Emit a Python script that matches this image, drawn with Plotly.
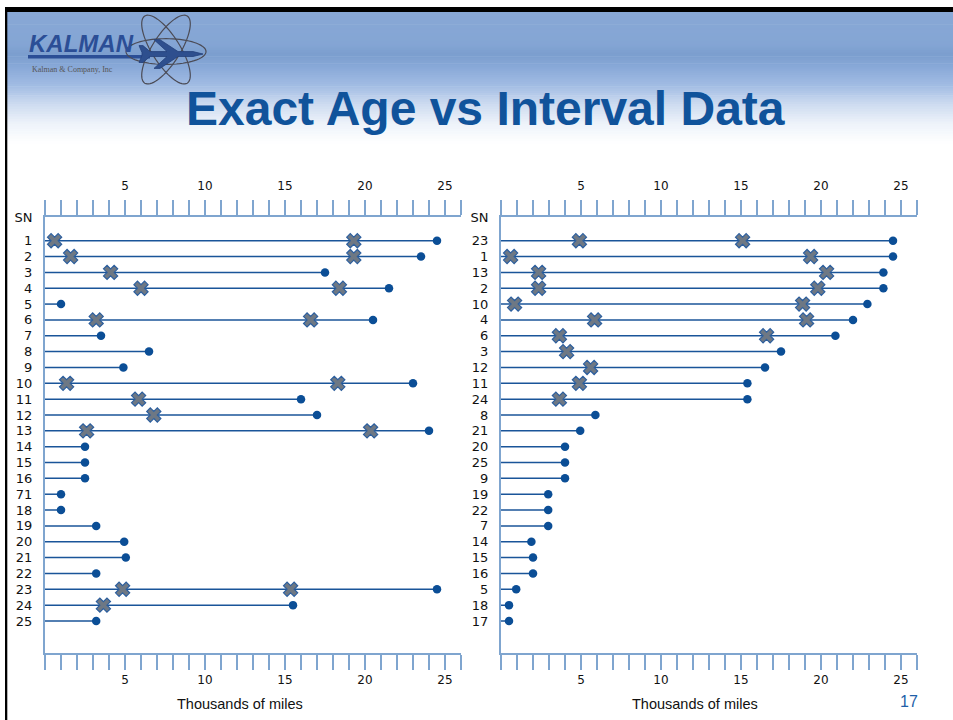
import math
import plotly.graph_objects as go

# ---------------- data ----------------
left_sn = ["1", "2", "3", "4", "5", "6", "7", "8", "9", "10", "11", "12", "13",
           "14", "15", "16", "71", "18", "19", "20", "21", "22", "23", "24", "25"]
left_end = [24.5, 23.5, 17.5, 21.5, 1.0, 20.5, 3.5, 6.5, 4.9, 23.0, 16.0, 17.0, 24.0,
            2.5, 2.5, 2.5, 1.0, 1.0, 3.2, 4.95, 5.05, 3.2, 24.5, 15.5, 3.2]
left_fail1 = [0.6, 1.6, 4.1, 6.0, None, 3.2, None, None, None, 1.35, 5.85, 6.8, 2.6,
              None, None, None, None, None, None, None, None, None, 4.85, 3.65, None]
left_fail2 = [19.3, 19.3, None, 18.4, None, 16.6, None, None, None, 18.3, None, None, 20.35,
              None, None, None, None, None, None, None, None, None, 15.35, None, None]

right_sn = ["23", "1", "13", "2", "10", "4", "6", "3", "12", "11", "24", "8", "21",
            "20", "25", "9", "19", "22", "7", "14", "15", "16", "5", "18", "17"]
right_end = [24.5, 24.5, 23.9, 23.9, 22.9, 22.0, 20.9, 17.5, 16.5, 15.4, 15.4, 5.9, 4.95,
             4.0, 4.0, 4.0, 2.95, 2.95, 2.95, 1.9, 2.0, 2.0, 0.95, 0.5, 0.5]
right_fail1 = [4.9, 0.6, 2.35, 2.35, 0.85, 5.85, 3.65, 4.1, 5.6, 4.9, 3.65, None, None,
               None, None, None, None, None, None, None, None, None, None, None, None]
right_fail2 = [15.1, 19.35, 20.35, 19.8, 18.85, 19.1, 16.6, None, None, None, None, None, None,
               None, None, None, None, None, None, None, None, None, None, None, None]

x_tick_vals = [5, 10, 15, 20, 25]
x_tick_text = ["5", "10", "15", "20", "25"]
axis_title = "Thousands of miles"
title_text = "Exact Age vs Interval Data"
page_number = "17"

# ---------------- styling ----------------
W, H = 953, 720
LINE_C = "#1A5599"
DOT_C = "#0B4E96"
X_FILL = "#6E7884"
X_EDGE = "#2D5F9E"
AXIS_C = "#7FA5CF"


def px(x):
    return x / W


def py(y):
    return 1 - y / H


fig = go.Figure()


def add_panel(sn, end, f1, f2, xa, ya, xtop):
    rows = list(range(len(sn)))
    lx, ly = [], []
    for r, e in zip(rows, end):
        lx += [0, e, None]
        ly += [r, r, None]
    fig.add_trace(go.Scatter(x=lx, y=ly, mode="lines", xaxis=xa, yaxis=ya,
                             line=dict(color=LINE_C, width=1.5),
                             hoverinfo="skip", showlegend=False))
    fig.add_trace(go.Scatter(x=end, y=rows, mode="markers", xaxis=xa, yaxis=ya,
                             marker=dict(symbol="circle", size=8.5, color=DOT_C),
                             showlegend=False))
    fx, fy = [], []
    for r, a, b in zip(rows, f1, f2):
        for v in (a, b):
            if v is not None:
                fx.append(v)
                fy.append(r)
    fig.add_trace(go.Scatter(x=fx, y=fy, mode="markers", xaxis=xa, yaxis=ya,
                             marker=dict(symbol="x", size=12.5, color=X_FILL,
                                         line=dict(color=X_EDGE, width=1.2)),
                             showlegend=False))
    # dummy trace to make the top axis render
    fig.add_trace(go.Scatter(x=[None], y=[None], xaxis=xtop, yaxis=ya,
                             showlegend=False, hoverinfo="skip"))


add_panel(left_sn, left_end, left_fail1, left_fail2, "x", "y", "x3")
add_panel(right_sn, right_end, right_fail1, right_fail2, "x2", "y2", "x4")

y_top_px, y_bot_px = 212, 652
ydom = [py(y_bot_px), py(y_top_px)]
yrange = [26, -1.5]

tickfont_axis = dict(family="DejaVu Sans", size=12, color="#111111")


def xaxis_cfg(dom, side, anchor, overlay=None, match=None):
    d = dict(domain=dom, range=[0, 26], side=side, anchor=anchor,
             showgrid=False, zeroline=False, showline=True, linecolor=AXIS_C,
             linewidth=2, tickmode="array", tickvals=x_tick_vals, ticktext=x_tick_text,
             ticks="outside", ticklen=15, tickwidth=1.6, tickcolor=AXIS_C,
             tickfont=tickfont_axis,
             ticklabelstandoff=(5 if side == "top" else 0),
             minor=dict(dtick=1, tick0=0, ticks="outside", ticklen=15,
                        tickwidth=1.6, tickcolor=AXIS_C, showgrid=False),
             fixedrange=True)
    if overlay:
        d["overlaying"] = overlay
    if match:
        d["matches"] = match
    return d


def yaxis_cfg(anchor, sn):
    return dict(domain=ydom, range=yrange, anchor=anchor, showgrid=False,
                zeroline=False, showline=True, linecolor=AXIS_C, linewidth=2,
                tickmode="array", tickvals=[-1.5] + list(range(len(sn))),
                ticktext=["SN"] + sn, ticks="", ticklabelstandoff=8,
                tickfont=dict(family="DejaVu Sans", size=13, color="#111111"),
                fixedrange=True)


ldom = [px(45), px(461)]
rdom = [px(501), px(917)]

# ---------------- decoration shapes ----------------
shapes = []
# header gradient bands
stops = [(5, (136, 168, 214)), (38, (132, 165, 212)), (48, (123, 158, 206)),
         (62, (138, 170, 217)), (80, (163, 189, 228)), (98, (205, 219, 240)),
         (118, (238, 243, 250)), (138, (255, 255, 255))]
for i in range(len(stops) - 1):
    (y0, c0), (y1, c1) = stops[i], stops[i + 1]
    n = 8
    for k in range(n):
        t = (k + 0.5) / n
        c = tuple(int(round(c0[j] + (c1[j] - c0[j]) * t)) for j in range(3))
        ya = y0 + (y1 - y0) * k / n
        yb = y0 + (y1 - y0) * (k + 1) / n + 0.6
        shapes.append(dict(type="rect", xref="paper", yref="paper", layer="below",
                           x0=px(7), x1=1, y0=py(yb), y1=py(ya),
                           line=dict(width=0), fillcolor="rgb(%d,%d,%d)" % c))
# black frame (top and left)
shapes.append(dict(type="rect", xref="paper", yref="paper", x0=px(5), x1=1,
                   y0=py(5), y1=1, line=dict(width=0), fillcolor="black"))
shapes.append(dict(type="rect", xref="paper", yref="paper", x0=px(5), x1=px(7.3),
                   y0=0, y1=1, line=dict(width=0), fillcolor="black"))


def path_from(points, close=True):
    s = "M " + " L ".join("%.5f,%.5f" % (px(x), py(y)) for x, y in points)
    return s + (" Z" if close else "")


# logo: swoosh bar
shapes.append(dict(type="rect", xref="paper", yref="paper", x0=px(28), x1=px(150),
                   y0=py(52), y1=py(48.5), line=dict(width=0), fillcolor="#2B4E96"))
# atom orbits
for (cx, cy, a, b, ang) in [(166, 43, 40, 14, -58), (166, 43, 40, 14, 58), (166, 45, 40, 13, 0)]:
    pts = []
    th = math.radians(ang)
    for k in range(73):
        t = 2 * math.pi * k / 72
        ex, ey = a * math.cos(t), b * math.sin(t)
        pts.append((cx + ex * math.cos(th) - ey * math.sin(th),
                    cy + ex * math.sin(th) + ey * math.cos(th)))
    shapes.append(dict(type="path", xref="paper", yref="paper",
                       path=path_from(pts), line=dict(color="#4B4B55", width=1.2)))
# airplane
plane = [(203, 47.5), (193, 45), (178, 45), (160, 33), (154, 33), (167, 45), (150, 45),
         (143, 39), (139, 39), (142, 46), (142, 49), (139, 56), (143, 56), (150, 50),
         (167, 50), (154, 62), (160, 62), (178, 50), (193, 50)]
shapes.append(dict(type="path", xref="paper", yref="paper", path=path_from(plane),
                   fillcolor="#2E4F8E", line=dict(color="#23407A", width=0.8)))

# ---------------- annotations ----------------
annotations = [
    dict(text=title_text, x=px(485.5), y=py(102), xref="paper", yref="paper",
         xanchor="center", yanchor="middle", showarrow=False,
         font=dict(family="Liberation Sans", size=48, color="#10539B", weight="bold")),
    dict(text="KALMAN", x=px(27), y=py(37), xref="paper", yref="paper",
         xanchor="left", yanchor="middle", showarrow=False,
         font=dict(family="Liberation Sans", size=24, color="#2B4E96",
                   weight="bold", style="italic")),
    dict(text="Kalman &amp; Company, Inc", x=px(30), y=py(63), xref="paper", yref="paper",
         xanchor="left", yanchor="middle", showarrow=False,
         font=dict(family="Liberation Serif", size=8, color="#555555")),
    dict(text=axis_title, x=px(240), y=py(704), xref="paper", yref="paper",
         xanchor="center", yanchor="middle", showarrow=False,
         font=dict(family="Liberation Sans", size=14.5, color="#111111")),
    dict(text=axis_title, x=px(695), y=py(704), xref="paper", yref="paper",
         xanchor="center", yanchor="middle", showarrow=False,
         font=dict(family="Liberation Sans", size=14.5, color="#111111")),
    dict(text=page_number, x=px(908.5), y=py(701), xref="paper", yref="paper",
         xanchor="center", yanchor="middle", showarrow=False,
         font=dict(family="Liberation Sans", size=16, color="#1F5FA8")),
]

fig.update_layout(
    width=W, height=H, margin=dict(l=0, r=0, t=0, b=0),
    paper_bgcolor="white", plot_bgcolor="rgba(0,0,0,0)",
    showlegend=False, hovermode="closest",
    xaxis=xaxis_cfg(ldom, "bottom", "y"),
    xaxis3=xaxis_cfg(ldom, "top", "y", overlay="x", match="x"),
    xaxis2=xaxis_cfg(rdom, "bottom", "y2"),
    xaxis4=xaxis_cfg(rdom, "top", "y2", overlay="x2", match="x2"),
    yaxis=yaxis_cfg("x", left_sn),
    yaxis2=yaxis_cfg("x2", right_sn),
    shapes=shapes,
    annotations=annotations,
)

fig.write_html(
    "out.html",
    config={"displayModeBar": False, "responsive": False},
    post_script="document.body.style.margin='0';document.body.style.padding='0';"
                "document.documentElement.style.overflow='hidden';"
                "var d=document.getElementById('{plot_id}');"
                "d.style.position='absolute';d.style.top='0px';d.style.left='0px';",
)
